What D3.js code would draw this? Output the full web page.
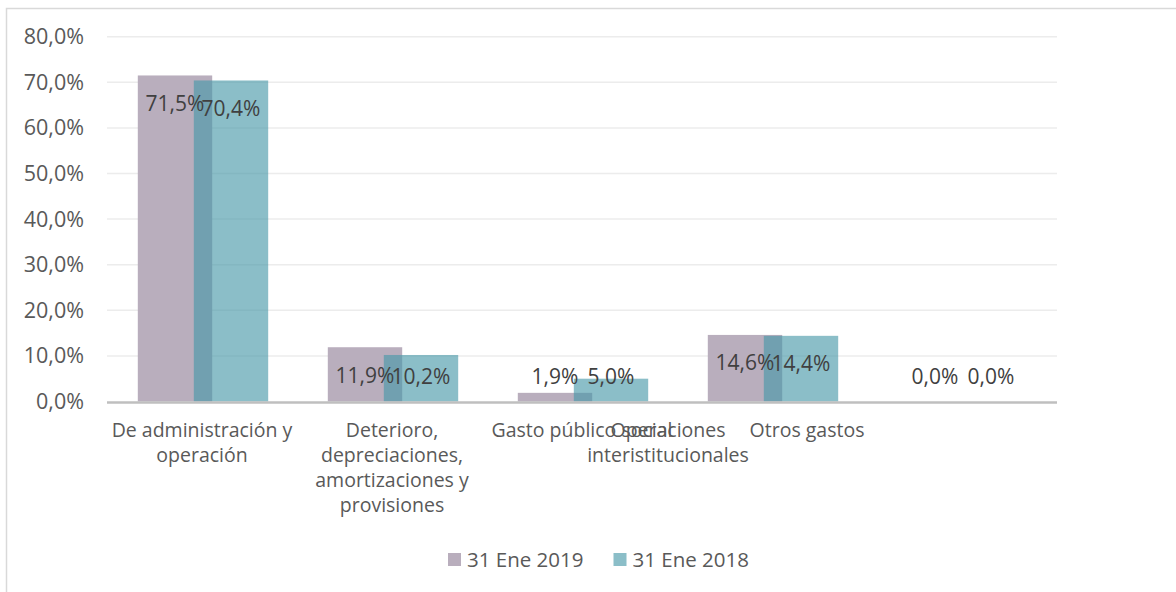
<!DOCTYPE html>
<html>
  <head>
    <meta charset="utf-8">
    <title>Gastos</title>
    <script src="https://d3js.org/d3.v7.min.js"></script>
    <style>
      body { margin: 0; background: #fff; }
      text { font-family: "Open Sans", sans-serif; fill: #595959; }
      .value { fill: #404040; }
    </style>
  </head>
  <body>
    <svg width="1176" height="592"></svg>

    <script>
      const categories = [
        "De administración y operación",
        "Deterioro, depreciaciones, amortizaciones y provisiones",
        "Gasto público social",
        "Operaciones interistitucionales",
        "Otros gastos"
      ];
      const categoryLines = [
        ["De administración y", "operación"],
        ["Deterioro,", "depreciaciones,", "amortizaciones y", "provisiones"],
        ["Gasto público social"],
        ["Operaciones", "interistitucionales"],
        ["Otros gastos"]
      ];
      const seriesNames = ["31 Ene 2019", "31 Ene 2018"];
      const values2019 = [71.5, 11.9, 1.9, 14.6, 0.0];
      const values2018 = [70.4, 10.2, 5.0, 14.4, 0.0];
      const yTicks = [0, 10, 20, 30, 40, 50, 60, 70, 80];

      // Excel pushed the last two axis labels left; shift from band centre
      const labelShift = [0, 0, 0, -104, -155];

      const colors = ["#b9aebd", "rgba(71,152,168,0.63)"];
      const legendColors = ["#b9aebd", "#8bbec8"];
      const fmt = v => d3.format(".1f")(v).replace(".", ",") + "%";

      function main(){
        const svg = d3.select("svg");

        // chart frame
        svg.append("path")
          .attr("d", "M6.5,600 V8.5 H1180")
          .attr("fill", "none")
          .attr("stroke", "#d9d9d9")
          .attr("stroke-width", 1.5);

        const x0 = 107, x1 = 1057;
        const y = d3.scaleLinear().domain([0, 80]).range([401.5, 36.7]);
        const x = d3.scaleBand().domain(categories).range([x0, x1]);
        const barW = 74.4, barStart = -64.2, barStep = 56;

        // gridlines
        svg.append("g").selectAll("line").data(yTicks.slice(1)).join("line")
          .attr("x1", x0).attr("x2", x1)
          .attr("y1", d => y(d)).attr("y2", d => y(d))
          .attr("stroke", "#ececec").attr("stroke-width", 1.5);

        // y tick labels
        svg.append("g").selectAll("text").data(yTicks).join("text")
          .attr("x", 84).attr("y", d => y(d))
          .attr("dy", "0.35em")
          .attr("text-anchor", "end")
          .attr("font-size", 21.5)
          .text(fmt);

        const series = [values2019, values2018];
        series.forEach((vals, s) => {
          svg.append("g").selectAll("rect").data(vals).join("rect")
            .attr("x", (d, i) => x(categories[i]) + x.bandwidth() / 2 + barStart + s * barStep)
            .attr("y", d => y(d))
            .attr("width", barW)
            .attr("height", d => y(0) - y(d))
            .attr("fill", colors[s]);
        });

        // axis line
        svg.append("line")
          .attr("x1", x0).attr("x2", x1)
          .attr("y1", y(0) + 1).attr("y2", y(0) + 1)
          .attr("stroke", "#bfbfbf").attr("stroke-width", 2.5);

        // value labels
        series.forEach((vals, s) => {
          svg.append("g").selectAll("text").data(vals).join("text")
            .attr("class", "value")
            .attr("x", (d, i) => x(categories[i]) + x.bandwidth() / 2 + barStart + s * barStep + barW / 2)
            .attr("y", d => Math.min(y(d) + 28, y(0) - 25))
            .attr("dy", "0.35em")
            .attr("text-anchor", "middle")
            .attr("font-size", 21)
            .text(fmt);
        });

        // category labels
        const cat = svg.append("g").selectAll("text").data(categories).join("text")
          .attr("text-anchor", "middle")
          .attr("font-size", 19.5)
          .attr("transform", (d, i) => `translate(${x(d) + x.bandwidth() / 2 + labelShift[i]}, 437)`);
        cat.selectAll("tspan").data((d, i) => categoryLines[i]).join("tspan")
          .attr("x", 0)
          .attr("y", (d, j) => j * 25)
          .text(d => d);

        // legend
        const legend = svg.append("g").selectAll("g").data(seriesNames).join("g")
          .attr("transform", (d, i) => `translate(${448 + i * 165.5}, 553)`);
        legend.append("rect")
          .attr("width", 13).attr("height", 13)
          .attr("fill", (d, i) => legendColors[i]);
        legend.append("text")
          .attr("x", 19).attr("y", 6.5)
          .attr("dy", "0.35em")
          .attr("font-size", 20.5)
          .text(d => d);
      }
      main();
    </script>
  </body>
</html>
